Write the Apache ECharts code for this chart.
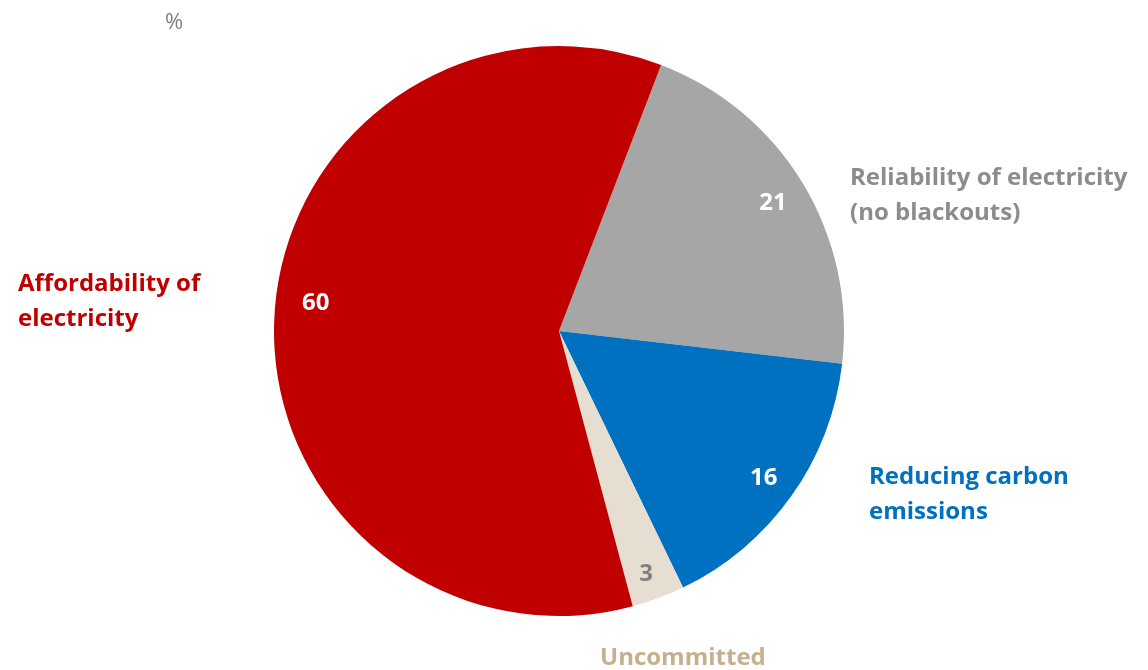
<!DOCTYPE html>
<html>
<head>
<meta charset="utf-8">
<script src="https://cdn.jsdelivr.net/npm/echarts@6/dist/echarts.min.js"></script>
<style>
html,body{margin:0;padding:0;background:#fff;}
#chart{width:1148px;height:670px;}
</style>
</head>
<body>
<div id="chart"></div>
<script>
const categories = ["Reliability of electricity\n(no blackouts)", "Reducing carbon\nemissions", "Uncommitted", "Affordability of\nelectricity"];
const values = [21, 16, 3, 60];
const sliceColors = ["#A6A6A6", "#0070C0", "#E7DED2", "#C00000"];
const nameColors = ["#8C8C8C", "#0070C0", "#C4B08E", "#C00000"];
const valueColors = ["#FFFFFF", "#FFFFFF", "#808080", "#FFFFFF"];
// label anchor spots (left edge, vertical middle) for category names
const nameSpots = [[850, 196], [869, 495], [600, 658], [18, 302]];
// small nudges for value labels
const valueNudges = [[-2, 3], [-1, 1], [-1, 6], [9, -15]];

const FONT = '"Open Sans", Lato, sans-serif';
const center = [559, 331];
const R = 285;
const startAngle = 69;

const chart = echarts.init(document.getElementById('chart'), null, {renderer: 'canvas'});

const mainData = categories.map((c, i) => ({name: c, value: values[i], itemStyle: {color: sliceColors[i]}}));

const option = {
  animation: false,
  title: {
    text: '%', left: 160, top: 7,
    textStyle: {color: '#7F7F7F', fontSize: 22, fontWeight: 'normal', fontFamily: FONT}
  },
  series: [
    {
      type: 'pie', center: center, radius: [0, R], startAngle: startAngle,
      clockwise: true, silent: true,
      label: {show: false}, labelLine: {show: false},
      itemStyle: {borderWidth: 0},
      data: mainData
    },
    {
      type: 'pie', center: center, radius: [214, R], startAngle: startAngle,
      clockwise: true, silent: true,
      itemStyle: {color: 'rgba(0,0,0,0)'},
      labelLine: {show: false},
      label: {
        show: true, position: 'inside', formatter: '{c}',
        fontFamily: FONT, fontWeight: 'bold', fontSize: 24
      },
      labelLayout: function (p) {
        const n = valueNudges[p.dataIndex];
        return {dx: n[0], dy: n[1]};
      },
      data: categories.map((c, i) => ({name: c, value: values[i], label: {color: valueColors[i]}}))
    },
    {
      type: 'pie', center: center, radius: [0, R], startAngle: startAngle,
      clockwise: true, silent: true,
      itemStyle: {color: 'rgba(0,0,0,0)'},
      labelLine: {show: false},
      label: {
        show: true, position: 'outside', formatter: '{b}',
        fontFamily: FONT, fontWeight: 'bold', fontSize: 24, lineHeight: 35, align: 'left'
      },
      labelLayout: function (p) {
        const s = nameSpots[p.dataIndex];
        return {x: s[0], y: s[1], align: 'left', verticalAlign: 'middle'};
      },
      data: categories.map((c, i) => ({name: c, value: values[i], label: {color: nameColors[i]}}))
    }
  ]
};
chart.setOption(option);
</script>
</body>
</html>
